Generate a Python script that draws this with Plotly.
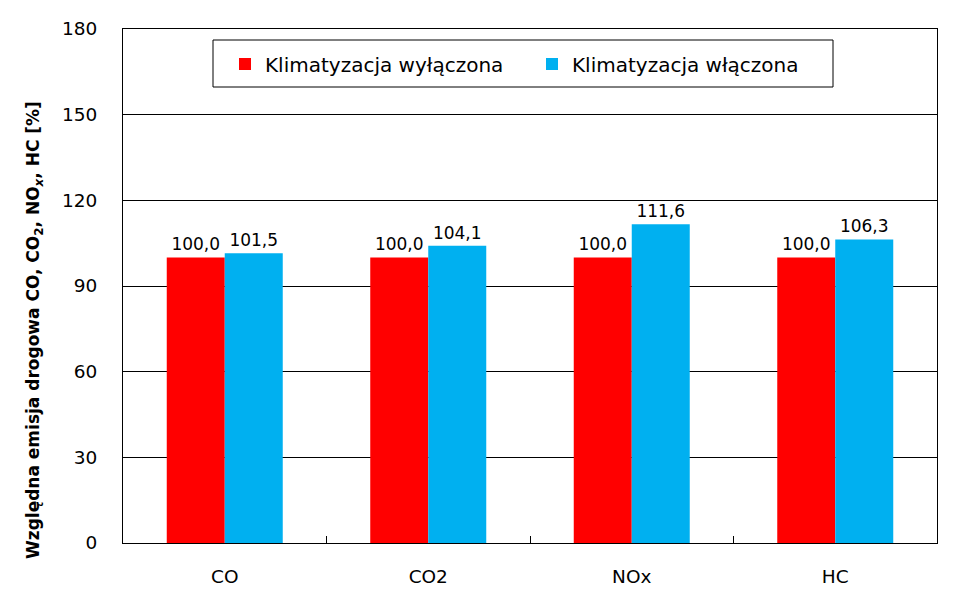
import plotly.graph_objects as go

categories = ["CO", "CO2", "NOx", "HC"]
ac_off = [100.0, 100.0, 100.0, 100.0]
ac_on = [101.5, 104.1, 111.6, 106.3]
series_names = ["Klimatyzacja wyłączona", "Klimatyzacja włączona"]
y_ticks = [0, 30, 60, 90, 120, 150, 180]
y_title = "<b>Względna emisja drogowa CO, CO<sub>2</sub>, NO<sub><i>x</i></sub>, HC [%]</b>"

FONT = "DejaVu Sans, sans-serif"

# page body has an 8px default margin; figure sized so the plot area lands where the reference has it
W, H = 968, 584
L, R, T, B = 115, 39, 21, 49
PW, PH = W - L - R, H - T - B

def px_x(x):  # page x -> paper
    return (x - 8 - L) / PW

def px_y(y):  # page y -> paper
    return (H - B - (y - 8)) / PH

def fmt(v):
    return f"{v:.1f}".replace(".", ",")

fig = go.Figure()
for name, vals, col in [(series_names[0], ac_off, "#FF0000"), (series_names[1], ac_on, "#00B0F0")]:
    fig.add_trace(go.Bar(
        x=categories, y=vals, name=name, marker_color=col, marker_line_width=0,
        text=[fmt(v) for v in vals], textposition="outside", cliponaxis=False,
        textfont=dict(size=17, color="black", family=FONT),
    ))

fig.update_layout(
    width=W, height=H,
    margin=dict(l=L, r=R, t=T, b=B, autoexpand=False),
    paper_bgcolor="white", plot_bgcolor="white",
    barmode="group", bargap=0.43, bargroupgap=0,
    font=dict(family=FONT, size=18, color="black"),
    showlegend=True,
    legend=dict(orientation="h", x=px_x(225), xanchor="left", y=px_y(64), yanchor="middle",
                font=dict(size=20, family=FONT), bgcolor="rgba(0,0,0,0)",
                itemwidth=30, traceorder="normal", entrywidth=262, entrywidthmode="pixels"),
    shapes=[dict(type="rect", xref="paper", yref="paper",
                 x0=px_x(213), x1=px_x(833), y0=px_y(87), y1=px_y(40),
                 line=dict(color="black", width=1), fillcolor="white", layer="below")],
    annotations=[dict(text=y_title, xref="paper", yref="paper", x=px_x(35), y=px_y(330),
                      xanchor="center", yanchor="middle", textangle=-90, showarrow=False,
                      font=dict(size=17, family=FONT, color="black"))],
    xaxis=dict(range=[-0.5, 3.5], showline=True, linecolor="black", linewidth=1, mirror=True,
               ticks="inside", tickson="boundaries", ticklen=7, tickcolor="black",
               tickfont=dict(size=18.5), ticklabelstandoff=17, showgrid=False, automargin=False),
    yaxis=dict(range=[0, 180], tickvals=y_ticks, showline=True, linecolor="black", linewidth=1,
               mirror=True, showgrid=True, gridcolor="black", gridwidth=1,
               tickfont=dict(size=18.5), ticks="", ticklabelstandoff=21, automargin=False,
               zeroline=False),
)

fig.write_html("out.html")
